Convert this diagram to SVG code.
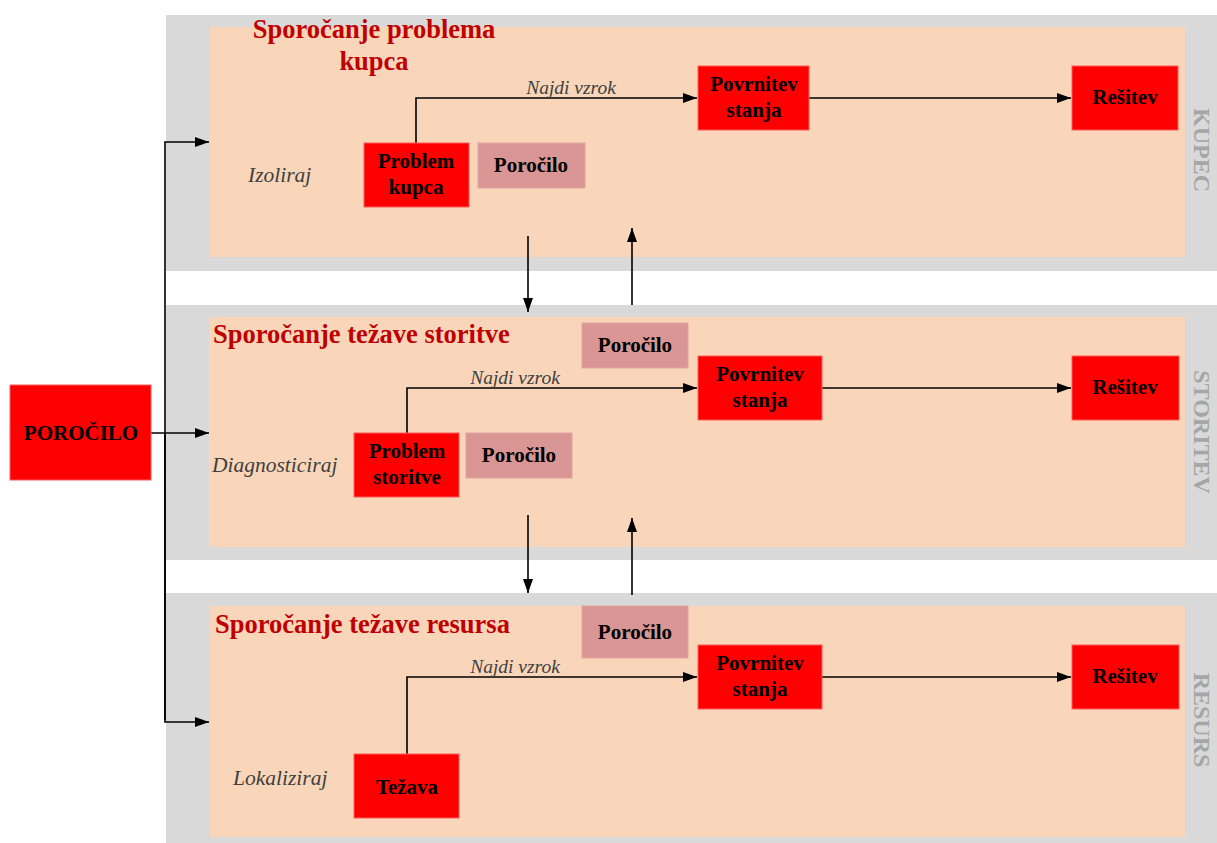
<svg xmlns="http://www.w3.org/2000/svg" width="1217" height="843" viewBox="0 0 1217 843">
  <style>
    .lane { fill: #d9d9d9; }
    .pool { fill: #f9d6b9; }
    .title { font-family: "Liberation Serif", serif; font-weight: bold; font-size: 26.5px; fill: #c00000; }
    .lanelbl { font-family: "Liberation Serif", serif; font-weight: bold; font-size: 24px; fill: #a6a6a6; text-anchor: middle; }
    .box { fill: #ff0000; stroke: #ff5a5a; stroke-width: 1; }
    .rep { fill: #d99694; stroke: #dfa3a1; stroke-width: 1; }
    .nt { font-family: "Liberation Serif", serif; font-weight: bold; font-size: 21px; fill: #000; text-anchor: middle; }
    .act { font-family: "Liberation Serif", serif; font-style: italic; font-size: 21.5px; fill: #404040; }
    .lbl { font-family: "Liberation Serif", serif; font-style: italic; font-size: 19.5px; fill: #404040; text-anchor: middle; }
    .conn { fill: none; stroke: #000; stroke-width: 1.6; marker-end: url(#arr); }
  </style>
  <defs>
    <marker id="arr" viewBox="0 0 14 10" refX="14" refY="5" markerWidth="14" markerHeight="10" markerUnits="userSpaceOnUse" orient="auto">
      <path d="M0,0 L14,5 L0,10 Z" fill="#000"/>
    </marker>
  </defs>

  <rect width="1217" height="843" fill="#fff"/>

  <!-- swimlanes -->
  <g id="lane-kupec">
    <rect class="lane" x="166" y="15" width="1051" height="256"/>
    <rect class="pool" x="210" y="27" width="975" height="230"/>
    <text class="title" x="374" y="38" text-anchor="middle">Sporočanje problema</text>
    <text class="title" x="374" y="70" text-anchor="middle">kupca</text>
    <text class="lanelbl" transform="translate(1194,150) rotate(90)">KUPEC</text>
    <text class="act" x="248" y="182">Izoliraj</text>
  </g>
  <g id="lane-storitev">
    <rect class="lane" x="166" y="305" width="1051" height="255"/>
    <rect class="pool" x="209" y="317" width="976" height="230"/>
    <text class="title" x="213" y="343">Sporočanje težave storitve</text>
    <text class="lanelbl" transform="translate(1194,432) rotate(90)">STORITEV</text>
    <text class="act" x="212" y="472">Diagnosticiraj</text>
  </g>
  <g id="lane-resurs">
    <rect class="lane" x="166" y="593" width="1051" height="250"/>
    <rect class="pool" x="210" y="606" width="975" height="231"/>
    <text class="title" x="215" y="633">Sporočanje težave resursa</text>
    <text class="lanelbl" transform="translate(1194,720) rotate(90)">RESURS</text>
    <text class="act" x="233" y="785">Lokaliziraj</text>
  </g>

  <!-- connectors -->
  <g id="connectors">
    <path class="conn" d="M151,433 L209,433"/>
    <path class="conn" d="M165,720 L165,142 L209,142"/>
    <path class="conn" d="M165,433 L165,722 L209,722"/>
    <path class="conn" d="M416,143 L416,98 L697,98"/>
    <path class="conn" d="M809,98 L1071,98"/>
    <text class="lbl" x="571" y="94">Najdi vzrok</text>
    <path class="conn" d="M407,433 L407,388 L697,388"/>
    <path class="conn" d="M822,388 L1071,388"/>
    <text class="lbl" x="515" y="384">Najdi vzrok</text>
    <path class="conn" d="M407,754 L407,677 L697,677"/>
    <path class="conn" d="M822,677 L1071,677"/>
    <text class="lbl" x="515" y="673">Najdi vzrok</text>
    <path class="conn" d="M528,236 L528,312"/>
    <path class="conn" d="M632,305 L632,228"/>
    <path class="conn" d="M528,515 L528,593"/>
    <path class="conn" d="M632,595 L632,518"/>
  </g>

  <!-- nodes -->
  <g id="porocilo-main">
    <rect class="box" x="10" y="385" width="141" height="95"/>
    <text class="nt" x="81" y="440">POROČILO</text>
  </g>

  <g id="problem-kupca">
    <rect class="box" x="364" y="143" width="105" height="64"/>
    <text class="nt" x="416" y="168">Problem</text>
    <text class="nt" x="416" y="194">kupca</text>
  </g>
  <g id="porocilo-kupec">
    <rect class="rep" x="478" y="143" width="107" height="45"/>
    <text class="nt" x="531" y="172">Poročilo</text>
  </g>
  <g id="povrnitev-kupec">
    <rect class="box" x="698" y="66" width="111" height="64"/>
    <text class="nt" x="754" y="91">Povrnitev</text>
    <text class="nt" x="754" y="117">stanja</text>
  </g>
  <g id="resitev-kupec">
    <rect class="box" x="1072" y="66" width="106" height="64"/>
    <text class="nt" x="1125" y="104">Rešitev</text>
  </g>

  <g id="porocilo-storitev-top">
    <rect class="rep" x="582" y="323" width="106" height="45"/>
    <text class="nt" x="635" y="352">Poročilo</text>
  </g>
  <g id="povrnitev-storitev">
    <rect class="box" x="698" y="356" width="124" height="64"/>
    <text class="nt" x="760" y="381">Povrnitev</text>
    <text class="nt" x="760" y="407">stanja</text>
  </g>
  <g id="resitev-storitev">
    <rect class="box" x="1072" y="356" width="107" height="64"/>
    <text class="nt" x="1125" y="394">Rešitev</text>
  </g>
  <g id="problem-storitve">
    <rect class="box" x="354" y="433" width="105" height="64"/>
    <text class="nt" x="407" y="458">Problem</text>
    <text class="nt" x="407" y="484">storitve</text>
  </g>
  <g id="porocilo-storitev">
    <rect class="rep" x="466" y="433" width="106" height="45"/>
    <text class="nt" x="519" y="462">Poročilo</text>
  </g>

  <g id="porocilo-resurs">
    <rect class="rep" x="582" y="606" width="106" height="52"/>
    <text class="nt" x="635" y="639">Poročilo</text>
  </g>
  <g id="povrnitev-resurs">
    <rect class="box" x="698" y="645" width="124" height="64"/>
    <text class="nt" x="760" y="670">Povrnitev</text>
    <text class="nt" x="760" y="696">stanja</text>
  </g>
  <g id="resitev-resurs">
    <rect class="box" x="1072" y="645" width="107" height="64"/>
    <text class="nt" x="1125" y="683">Rešitev</text>
  </g>
  <g id="tezava">
    <rect class="box" x="354" y="754" width="105" height="64"/>
    <text class="nt" x="407" y="794">Težava</text>
  </g>
</svg>
